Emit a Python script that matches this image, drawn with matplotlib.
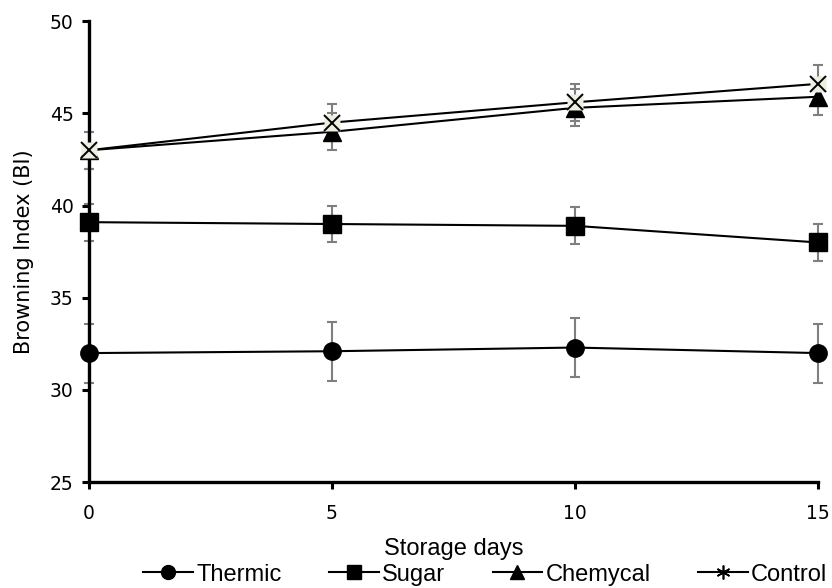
import matplotlib.pyplot as plt
from matplotlib.lines import Line2D

days = [0, 5, 10, 15]

thermic = [32.0, 32.1, 32.3, 32.0]
thermic_err = [1.6, 1.6, 1.6, 1.6]
sugar = [39.1, 39.0, 38.9, 38.0]
sugar_err = [1.0, 1.0, 1.0, 1.0]
chemycal = [43.0, 44.0, 45.3, 45.9]
chemycal_err = [1.0, 1.0, 1.0, 1.0]
control = [43.0, 44.5, 45.6, 46.6]
control_err = [1.0, 1.0, 1.0, 1.0]

fig = plt.figure(figsize=(8.32, 5.88), dpi=100)
ax = fig.add_axes([0.107, 0.180, 0.876, 0.784])

err_kw = dict(ecolor='#7f7f7f', elinewidth=1.5, capsize=3.5, capthick=1.5, zorder=2)

for y, e, m in [(thermic, thermic_err, 'o'), (sugar, sugar_err, 's'),
                (chemycal, chemycal_err, '^')]:
    ax.errorbar(days, y, yerr=e, fmt='none', **err_kw)
    ax.plot(days, y, color='black', lw=1.5, marker=m, ms=12.5, mfc='black', mec='black', zorder=3)

ax.errorbar(days, control, yerr=control_err, fmt='none', **err_kw)
ax.plot(days, control, color='black', lw=1.5, zorder=3)
ax.plot(days, control, ls='none', marker='s', ms=12, mfc='#EDEDE0', mec='none', zorder=4)
ax.plot(days, control, ls='none', marker='x', ms=12, mew=1.4, color='black', zorder=5)

ax.set_xlim(0, 15)
ax.set_ylim(25, 50)
ax.set_xticks([0, 5, 10, 15])
ax.set_yticks([25, 30, 35, 40, 45, 50])
for s in ['top', 'right']:
    ax.spines[s].set_visible(False)
for s in ['left', 'bottom']:
    ax.spines[s].set_linewidth(2.4)
ax.tick_params(direction='out', width=2.2, length=5, labelsize=13.5, colors='black')
ax.tick_params(axis='y', pad=6)
ax.tick_params(axis='x', pad=11)
for art in ax.lines + ax.collections:
    art.set_clip_on(False)

ax.set_ylabel('Browning Index (BI)', fontsize=15, family='DejaVu Sans')
ax.yaxis.set_label_coords(-0.075, 0.5)
ax.set_xlabel('Storage days', fontsize=17, family='Liberation Sans')
ax.xaxis.set_label_coords(0.5, -0.121)

handles = [
    Line2D([], [], color='black', lw=1.5, marker='o', ms=10),
    Line2D([], [], color='black', lw=1.5, marker='s', ms=10),
    Line2D([], [], color='black', lw=1.5, marker='^', ms=10),
    Line2D([], [], color='black', lw=1.5, marker=(6, 2, 0), ms=10, mew=1.2),
]
fig.legend(handles, ['Thermic', 'Sugar', 'Chemycal', 'Control'], loc='lower right',
           bbox_to_anchor=(1.02, -0.032), ncol=4, frameon=False, handlelength=2.1,
           handletextpad=0.15, columnspacing=2.0,
           prop={'family': 'Liberation Sans', 'size': 17})

fig.savefig('out.png', dpi=100)
